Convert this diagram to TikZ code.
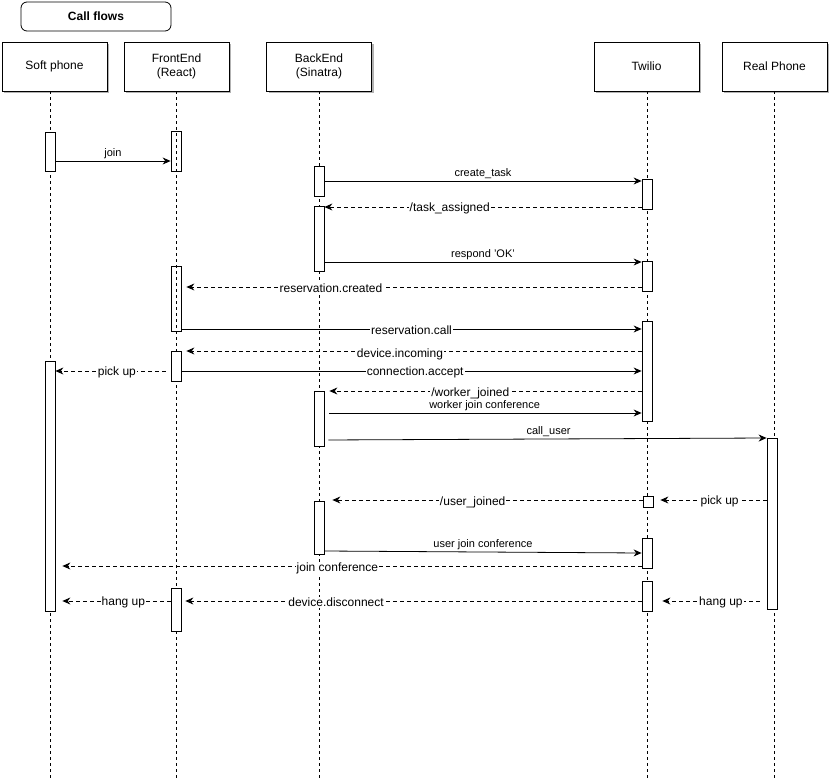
\documentclass[tikz,border=0pt]{standalone}
\usepackage{fontspec}
\setmainfont{Liberation Sans}
\usetikzlibrary{shadows,arrows.meta}
\begin{document}
\begin{tikzpicture}[x=1pt,y=-1pt,
 head/.style={draw, fill=white, minimum width=105pt, minimum height=49pt, align=center, inner sep=0pt,
   font=\fontsize{12}{14}\selectfont, line width=0.8pt,
   drop shadow={shadow xshift=2pt, shadow yshift=-2pt, fill=black!60}},
 titlebox/.style={draw, rounded corners=6pt, fill=white, minimum width=150pt, minimum height=29pt,
   inner sep=0pt, font=\fontsize{12}{14}\selectfont\bfseries, line width=0.8pt},
 act/.style={draw, fill=white, minimum width=10pt, inner sep=0pt, line width=0.8pt},
 hollow/.style={act, fill=none},
 life/.style={dash pattern=on 3pt off 3pt, line width=0.7pt},
 msg/.style={-{Stealth[length=8pt,width=7pt]}, line width=0.8pt},
 ret/.style={msg, dash pattern=on 4pt off 3pt},
 lbl/.style={fill=white, inner sep=1pt, font=\fontsize{12}{14}\selectfont, solid, yshift=-1.5pt},
 albl/.style={inner sep=1.5pt, font=\fontsize{11}{13}\selectfont, above}
]
\useasboundingbox (0,0) rectangle (830,784);

% title and participants
\node[titlebox] (title) at (96,16.5) {Call flows};
\node[head] (sp) at (54.5,66.5) {Soft phone};
\node[head] (fe) at (176.5,66.5) {FrontEnd\\(React)};
\node[head] (be) at (319,66.5) {BackEnd\\(Sinatra)};
\node[head] (tw) at (646.5,66.5) {Twilio};
\node[head] (rp) at (774.5,66.5) {Real Phone};

% lifelines
\coordinate (spE) at (50,781);
\coordinate (feE) at (176,781);
\coordinate (beE) at (319,781);
\coordinate (twE) at (647,781);
\coordinate (rpE) at (774,781);
\draw[life] (sp.south -| spE) -- (spE);
\draw[life] (fe.south -| feE) -- (feE);
\draw[life] (be.south -| beE) -- (beE);
\draw[life] (tw.south -| twE) -- (twE);
\draw[life] (rp.south -| rpE) -- (rpE);

% activations
\node[act, minimum height=39pt] (sp1) at (50,151.5) {};
\node[act, minimum height=250pt] (sp2) at (50,486) {};
\node[hollow, minimum height=40pt] (fe1) at (176,151) {};
\node[hollow, minimum height=65pt] (fe2) at (176,298.5) {};
\node[act, minimum height=30pt] (fe3) at (176,366) {};
\node[act, minimum height=43pt] (fe4) at (176,609.5) {};
\node[act, minimum height=30pt] (be1) at (319,181) {};
\node[act, minimum height=65pt] (be2) at (319,238.5) {};
\node[act, minimum height=55pt] (be3) at (319,418.5) {};
\node[act, minimum height=53pt] (be4) at (319,527.5) {};
\node[act, minimum height=30pt] (tw1) at (647,194) {};
\node[act, minimum height=30pt] (tw2) at (647,276) {};
\node[act, minimum height=100pt] (tw3) at (647,371) {};
\node[act, minimum height=11pt] (tw4) at (648,502) {};
\node[act, minimum height=30pt] (tw5) at (647,553) {};
\node[act, minimum height=30pt] (tw6) at (647,596) {};
\node[act, minimum height=171pt] (rp1) at (772,523.5) {};

% messages
\draw[msg] (sp1.east |- 0,161) -- node[albl] {join} (fe1.west |- 0,161);
\draw[msg] (be1.east |- 0,181) -- node[albl] {create\_task} (tw1.west |- 0,181);
\draw[ret] (tw1.west |- 0,207) -- node[lbl, pos=0.605] {/task\_assigned} (be2.east |- 0,207);
\draw[msg] (be2.east |- 0,262) -- node[albl] {respond 'OK'} (tw2.west |- 0,262);
\draw[ret, shorten >=5pt] (tw2.west |- 0,287) -- node[lbl, pos=0.675] {reservation.created} (fe2.east |- 0,287);
\draw[msg] (fe2.east |- 0,329) -- node[lbl, pos=0.5] {reservation.call} (tw3.west |- 0,329);
\draw[ret, shorten >=5pt] (tw3.west |- 0,351) -- node[lbl, pos=0.525, yshift=-2pt] {device.incoming} (fe3.east |- 0,351);
\draw[msg] (fe3.east |- 0,371) -- node[lbl, pos=0.508] {connection.accept} (tw3.west |- 0,371);
\draw[ret, shorten <=5pt] (fe3.west |- 0,371) -- node[lbl, pos=0.466] {pick up} (sp2.east |- 0,371);
\draw[ret, shorten >=5pt] (tw3.west |- 0,391) -- node[lbl, pos=0.54, yshift=-1pt] {/worker\_joined} (be3.east |- 0,391);
\draw[msg, shorten <=5pt] (be3.east |- 0,413) -- node[albl, pos=0.505] {worker join conference} (tw3.west |- 0,413);
\draw[msg, shorten <=4pt] (be3.east |- 0,440) -- node[albl, pos=0.507] {call\_user} (rp1.west |- 0,438);
\draw[ret, shorten >=7pt] (rp1.west |- 0,500) -- node[lbl, pos=0.415] {pick up} (tw4.east |- 0,500);
\draw[ret, shorten >=8pt] (tw4.west |- 0,500) -- node[lbl, pos=0.534, yshift=-1pt] {/user\_joined} (be4.east |- 0,500);
\draw[msg] (be4.east |- 0,551) -- node[albl, pos=0.5] {user join conference} (tw5.west |- 0,553);
\draw[ret, shorten >=7pt] (tw5.west |- 0,566) -- node[lbl, pos=0.519, yshift=-1pt] {join conference} (sp2.east |- 0,566);
\draw[ret, shorten <=7pt, shorten >=10pt] (rp1.west |- 0,601) -- node[lbl, pos=0.4] {hang up} (tw6.east |- 0,601);
\draw[ret, shorten >=4pt] (tw6.west |- 0,601) -- node[lbl, pos=0.664] {device.disconnect} (fe4.east |- 0,601);
\draw[ret, shorten >=7pt] (fe4.west |- 0,601) -- node[lbl, pos=0.41] {hang up} (sp2.east |- 0,601);
\end{tikzpicture}
\end{document}
